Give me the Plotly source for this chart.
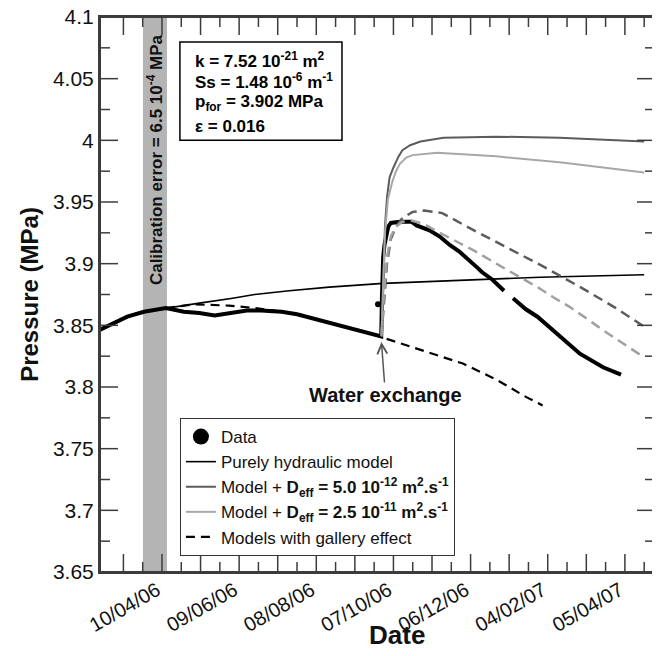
import plotly.graph_objects as go

FONT = "Liberation Sans, Arial, sans-serif"
AX = "#3c3c3c"

# ---------------- measured data ----------------
data_dates = ["2006-02-20", "2006-03-04", "2006-03-14", "2006-03-27", "2006-04-06", "2006-04-13",
              "2006-04-27", "2006-05-09", "2006-05-21", "2006-06-03", "2006-06-15", "2006-06-26",
              "2006-07-12", "2006-07-24", "2006-08-04", "2006-08-18", "2006-08-30", "2006-09-11",
              "2006-09-20", "2006-09-27 12:00", "2006-09-28 00:00", "2006-09-28 12:00", "2006-09-29",
              "2006-09-30", "2006-10-01", "2006-10-03", "2006-10-05", "2006-10-12", "2006-10-21",
              "2006-10-25", "2006-11-04", "2006-11-12", "2006-11-20", "2006-11-27", "2006-12-11",
              "2006-12-15", "2006-12-23", "2007-01-01", "2007-01-04", "2007-01-08", "2007-01-18",
              "2007-01-27", "2007-02-13", "2007-03-01", "2007-03-19", "2007-04-02"]
data_p = [3.846, 3.852, 3.857, 3.861, 3.863, 3.864,
          3.861, 3.860, 3.858, 3.860, 3.862, 3.862,
          3.861, 3.859, 3.856, 3.852, 3.849, 3.846,
          3.843, 3.841, 3.870, 3.895, 3.905,
          3.915, 3.920, 3.930, 3.933, 3.934, 3.934,
          3.931, 3.927, 3.922, 3.915, 3.910, 3.897,
          3.893, 3.887, 3.878, None, 3.872, 3.863,
          3.857, 3.842, 3.827, 3.816, 3.810]
outlier_dates = ["2006-09-25"]
outlier_p = [3.867]

# ---------------- models ----------------
hyd_dates = ["2006-02-20", "2006-03-10", "2006-03-27", "2006-04-13", "2006-05-09", "2006-06-04",
             "2006-06-21", "2006-07-18", "2006-08-18", "2006-09-29", "2006-11-12", "2007-01-29",
             "2007-04-20"]
hyd_p = [3.845, 3.855, 3.861, 3.864, 3.868, 3.872, 3.875, 3.878, 3.881, 3.884, 3.886, 3.889, 3.891]

d5_dates = ["2006-09-27 16:00", "2006-09-29 02:00", "2006-09-30 10:00", "2006-10-02", "2006-10-04",
            "2006-10-07", "2006-10-11", "2006-10-14", "2006-10-20", "2006-10-28", "2006-11-15",
            "2006-12-26", "2007-02-13", "2007-04-20"]
d5_p = [3.841, 3.889, 3.930, 3.954, 3.970, 3.978, 3.987, 3.992, 3.996, 3.999, 4.002, 4.003, 4.002, 3.999]

d25_dates = ["2006-09-27 16:00", "2006-09-29 02:00", "2006-09-30 10:00", "2006-10-02 17:00",
             "2006-10-06", "2006-10-09", "2006-10-12", "2006-10-17", "2006-10-22", "2006-11-10",
             "2006-12-26", "2007-02-15", "2007-04-20"]
d25_p = [3.841, 3.885, 3.925, 3.952, 3.966, 3.975, 3.981, 3.986, 3.988, 3.990, 3.987, 3.982, 3.974]

gal_d5_dates = ["2006-09-27 16:00", "2006-09-29 14:00", "2006-10-02", "2006-10-05", "2006-10-09",
                "2006-10-14", "2006-10-22", "2006-10-31", "2006-11-14", "2006-12-05", "2007-01-03",
                "2007-01-31", "2007-03-03", "2007-03-29", "2007-04-20"]
gal_d5_p = [3.841, 3.870, 3.900, 3.920, 3.930, 3.937, 3.942, 3.943, 3.941, 3.929, 3.913,
            3.898, 3.880, 3.864, 3.849]

gal_d25_dates = ["2006-09-27 16:00", "2006-09-29 14:00", "2006-10-02", "2006-10-05", "2006-10-09",
                 "2006-10-14", "2006-10-21", "2006-10-31", "2006-11-12", "2006-12-08", "2006-12-31",
                 "2007-01-27", "2007-02-08", "2007-02-21", "2007-03-11", "2007-03-19", "2007-04-20"]
gal_d25_p = [3.841, 3.875, 3.905, 3.922, 3.930, 3.934, 3.935, 3.932, 3.925, 3.911, 3.897,
             3.881, 3.873, 3.865, 3.852, 3.846, 3.824]

gal_hyd_dates = ["2006-04-13", "2006-05-05", "2006-06-01", "2006-06-22", "2006-07-06", "2006-07-24",
                 "2006-08-04", "2006-08-18", "2006-08-30", "2006-09-11", "2006-09-20",
                 "2006-09-27 16:00", "2006-10-04", "2006-11-04", "2006-11-30", "2006-12-26",
                 "2007-01-18", "2007-01-31"]
gal_hyd_p = [3.864, 3.867, 3.866, 3.864, 3.862, 3.859, 3.856, 3.852, 3.849, 3.846, 3.843,
             3.840, 3.838, 3.828, 3.819, 3.806, 3.792, 3.785]

# ---------------- ticks ----------------
x_major = ["2006-03-11", "2006-04-10", "2006-05-10", "2006-06-09", "2006-07-09", "2006-08-08",
           "2006-09-07", "2006-10-07", "2006-11-06", "2006-12-06", "2007-01-05", "2007-02-04",
           "2007-03-06", "2007-04-05"]
x_labels = ["", "10/04/06", "", "09/06/06", "", "08/08/06", "", "07/10/06", "", "06/12/06", "",
            "04/02/07", "", "05/04/07"]
x_minor = ["2006-03-26", "2006-04-25", "2006-05-25", "2006-06-24", "2006-07-24", "2006-08-23",
           "2006-09-22", "2006-10-22", "2006-11-21", "2006-12-21", "2007-01-20", "2007-02-19",
           "2007-03-21", "2007-04-20"]
y_major = [3.65, 3.7, 3.75, 3.8, 3.85, 3.9, 3.95, 4.0, 4.05, 4.1]
y_labels = ["3.65", "3.7", "3.75", "3.8", "3.85", "3.9", "3.95", "4", "4.05", "4.1"]
y_minor = [3.675, 3.725, 3.775, 3.825, 3.875, 3.925, 3.975, 4.025, 4.075]

fig = go.Figure()

# calibration band
fig.add_shape(type="rect", xref="x", yref="paper", x0="2006-03-26 05:00", x1="2006-04-13 21:00",
              y0=0, y1=1, fillcolor="#b4b4b4", line_width=0, layer="below")

fig.add_trace(go.Scatter(x=data_dates, y=data_p, mode="lines", connectgaps=False,
                         line=dict(color="black", width=4), showlegend=False, legendgroup="data"))
fig.add_trace(go.Scatter(x=outlier_dates, y=outlier_p, mode="markers",
                         marker=dict(color="black", size=6), showlegend=False, legendgroup="data"))
fig.add_trace(go.Scatter(x=hyd_dates, y=hyd_p, mode="lines", line=dict(color="black", width=1.6),
                         name="Purely hydraulic model", legendrank=2))
fig.add_trace(go.Scatter(x=d5_dates, y=d5_p, mode="lines", line=dict(color="#5c5c5c", width=2),
                         name="Model + <b>D<sub>eff</sub> = 5.0 10<sup>-12</sup> m<sup>2</sup>.s<sup>-1</sup></b>",
                         legendrank=3))
fig.add_trace(go.Scatter(x=d25_dates, y=d25_p, mode="lines", line=dict(color="#a8a8a8", width=2),
                         name="Model + <b>D<sub>eff</sub> = 2.5 10<sup>-11</sup> m<sup>2</sup>.s<sup>-1</sup></b>",
                         legendrank=4))
fig.add_trace(go.Scatter(x=gal_d5_dates, y=gal_d5_p, mode="lines",
                         line=dict(color="#5c5c5c", width=2.5, dash="10px,6px"), showlegend=False))
fig.add_trace(go.Scatter(x=gal_d25_dates, y=gal_d25_p, mode="lines",
                         line=dict(color="#a0a0a0", width=2.5, dash="10px,6px"), showlegend=False))
fig.add_trace(go.Scatter(x=gal_hyd_dates, y=gal_hyd_p, mode="lines",
                         line=dict(color="black", width=2.2, dash="9px,6px"),
                         name="Models with gallery effect", legendrank=5))
fig.add_trace(go.Scatter(x=[None], y=[None], mode="markers", marker=dict(color="black", size=16),
                         name="Data", legendgroup="data", legendrank=1))

# frame and inward ticks on all four sides (shapes anchored to the axes)
tick_line = dict(color=AX, width=1.5)
fig.add_shape(type="rect", xref="paper", yref="paper", x0=0, x1=1, y0=0, y1=1,
              line=dict(color=AX, width=2), layer="above")
for vals, length in ((x_major, 18), (x_minor, 10)):
    for v in vals:
        fig.add_shape(type="line", xref="x", yref="paper", x0=v, x1=v, ysizemode="pixel",
                      yanchor=0, y0=0, y1=length, line=tick_line, layer="above")
        fig.add_shape(type="line", xref="x", yref="paper", x0=v, x1=v, ysizemode="pixel",
                      yanchor=1, y0=0, y1=-length, line=tick_line, layer="above")
for vals, length in ((y_major, 18), (y_minor, 10)):
    for v in vals:
        fig.add_shape(type="line", xref="paper", yref="y", y0=v, y1=v, xsizemode="pixel",
                      xanchor=0, x0=0, x1=length, line=tick_line, layer="above")
        fig.add_shape(type="line", xref="paper", yref="y", y0=v, y1=v, xsizemode="pixel",
                      xanchor=1, x0=0, x1=-length, line=tick_line, layer="above")

# parameter box
fig.add_shape(type="rect", xref="paper", yref="paper", x0=0.144, x1=0.436, y0=0.778, y1=0.955,
              line=dict(color="black", width=1.5), fillcolor="white", layer="above")
info_lines = ["<b>k = 7.52 10<sup>-21</sup> m<sup>2</sup></b>",
              "<b>Ss = 1.48 10<sup>-6</sup> m<sup>-1</sup></b>",
              "<b>p<sub>for</sub> = 3.902 MPa</b>",
              "<b>ε = 0.016</b>"]
info_y = [0.9225, 0.8847, 0.845, 0.8036]
for t, yy in zip(info_lines, info_y):
    fig.add_annotation(text=t, xref="paper", yref="paper", x=0.1676, y=yy, xanchor="left",
                       yanchor="middle", showarrow=False, font=dict(size=17, color="black", family=FONT))

fig.add_annotation(text="<b>Calibration error = 6.5 10<sup>-4</sup> MPa</b>", x="2006-04-04 14:00", y=3.984,
                   textangle=-90, showarrow=False, font=dict(size=17, color="#111", family=FONT))

fig.add_annotation(text="<b>Water exchange</b>", x="2006-09-27 16:00", y=3.8365, showarrow=True,
                   arrowhead=5, arrowsize=1.3, arrowwidth=1.5, arrowcolor="#555", ax=4, ay=53,
                   font=dict(size=20, color="#111", family=FONT))

fig.add_annotation(text="<b>Date</b>", xref="paper", yref="paper", x=0.536, y=-0.113,
                   xanchor="center", yanchor="middle",
                   showarrow=False, font=dict(size=26, color="#111", family=FONT))

fig.update_xaxes(type="date", range=["2006-02-20 19:00", "2007-04-28 10:00"],
                 showline=True, linecolor=AX, linewidth=2, mirror=True, ticks="",
                 tickmode="array", tickvals=x_major, ticktext=x_labels, tickangle=-30,
                 ticklabelshift=-5, ticklabelstandoff=-3, ticklabeloverflow="allow",
                 tickfont=dict(size=20, family=FONT, color="#111"),
                 showgrid=False, zeroline=False)
fig.update_yaxes(range=[3.65, 4.1], showline=True, linecolor=AX, linewidth=2, mirror=True, ticks="",
                 tickmode="array", tickvals=y_major, ticktext=y_labels, ticklabeloverflow="allow",
                 tickfont=dict(size=21, family=FONT, color="#111"),
                 title=dict(text="<b>Pressure (MPa)</b>", font=dict(size=24, family=FONT, color="#111"),
                            standoff=8),
                 showgrid=False, zeroline=False)

# the page body adds an 8px offset; margins compensate so the plot area lands where the reference has it
fig.update_layout(width=660, height=656, margin=dict(l=92, r=13, t=9, b=92, autoexpand=False),
                  plot_bgcolor="white", paper_bgcolor="white",
                  font=dict(family=FONT, color="#111"),
                  legend=dict(x=0.144, y=0.2775, xanchor="left", yanchor="top",
                              bordercolor="#333", borderwidth=1, bgcolor="white",
                              font=dict(size=17, family=FONT, color="#111"),
                              tracegroupgap=0, itemwidth=30))

fig.write_html("out.html")
